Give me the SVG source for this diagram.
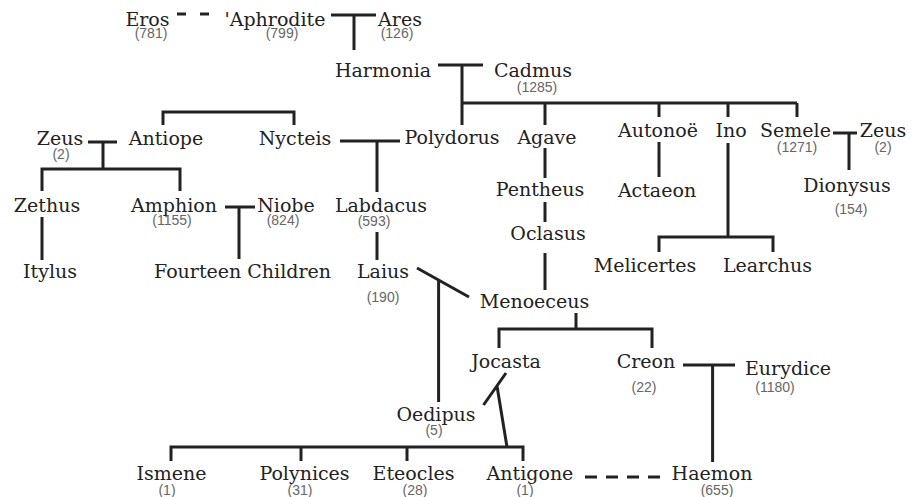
<svg xmlns="http://www.w3.org/2000/svg" width="917" height="497" viewBox="0 0 917 497">
<style>
.n{font-family:"DejaVu Serif","Liberation Serif",serif;font-size:19px;fill:#222;text-anchor:middle}
.c{font-family:"Liberation Sans",Arial,sans-serif;font-size:14px;fill:#666;text-anchor:middle}
.l{stroke:#222;stroke-width:3;fill:none}
.d{stroke:#222;stroke-width:3;fill:none;stroke-dasharray:12 9}
</style>
<rect width="917" height="497" fill="#fff"/>
<g id="connectors">
<line class="l" x1="177" y1="14" x2="186" y2="14"/>
<line class="l" x1="200" y1="14" x2="209" y2="14"/>
<path class="l" d="M331 15H376M354 15V50"/>
<path class="l" d="M438 65H483M462 65V125M462 103H797M545 103V125M659 103V117M728 103V117M797 103V117"/>
<path class="l" d="M88 142H117M103 142V169M42 191V169H180V191"/>
<path class="l" d="M163 125V112H294V125"/>
<path class="l" d="M340 141H400M377 141V192"/>
<path class="l" d="M833 133H857M849 133V170"/>
<path class="l" d="M659 142V177"/>
<path class="l" d="M728 143V237M659 252V237H773V252"/>
<path class="l" d="M545 148V178M545 202V222M545 253V290"/>
<path class="l" d="M225 207H255M239 207V259"/>
<path class="l" d="M377 232V260M42 217V260"/>
<path class="l" d="M417 268L469 297M438.6 280V402"/>
<path class="l" d="M576 313V329M499 348V329H652V348"/>
<path class="l" d="M683 365H735M712.6 365V462"/>
<path class="l" d="M506 373L483.5 405M497 386L507 447"/>
<path class="l" d="M171 461V447H523V461M301 447V461M407 447V461"/>
<line class="d" x1="585" y1="477" x2="660" y2="477"/>
</g>
<g id="eros"><text class="n" x="147.5" y="26">Eros</text><text class="c" x="151" y="38">(781)</text></g>
<g id="aphrodite"><text class="n" x="275" y="26">'Aphrodite</text><text class="c" x="282" y="38">(799)</text></g>
<g id="ares"><text class="n" x="400" y="26">Ares</text><text class="c" x="397" y="38">(126)</text></g>
<g id="harmonia"><text class="n" x="383" y="77">Harmonia</text></g>
<g id="cadmus"><text class="n" x="533" y="77">Cadmus</text><text class="c" x="537" y="92">(1285)</text></g>
<g id="zeus1"><text class="n" x="60" y="145">Zeus</text><text class="c" x="61" y="159">(2)</text></g>
<g id="antiope"><text class="n" x="166" y="145">Antiope</text></g>
<g id="nycteis"><text class="n" x="295" y="145">Nycteis</text></g>
<g id="polydorus"><text class="n" x="452" y="144">Polydorus</text></g>
<g id="agave"><text class="n" x="547" y="144">Agave</text></g>
<g id="autonoe"><text class="n" x="658" y="137">Autonoë</text></g>
<g id="ino"><text class="n" x="731" y="137">Ino</text></g>
<g id="semele"><text class="n" x="795.5" y="137">Semele</text><text class="c" x="797" y="152">(1271)</text></g>
<g id="zeus2"><text class="n" x="883" y="137">Zeus</text><text class="c" x="883" y="152">(2)</text></g>
<g id="pentheus"><text class="n" x="540" y="196">Pentheus</text></g>
<g id="actaeon"><text class="n" x="657" y="197">Actaeon</text></g>
<g id="dionysus"><text class="n" x="847" y="192">Dionysus</text><text class="c" x="851" y="214">(154)</text></g>
<g id="oclasus"><text class="n" x="548" y="240">Oclasus</text></g>
<g id="melicertes"><text class="n" x="645" y="272">Melicertes</text></g>
<g id="learchus"><text class="n" x="767.5" y="272">Learchus</text></g>
<g id="zethus"><text class="n" x="47" y="212">Zethus</text></g>
<g id="amphion"><text class="n" x="174" y="212">Amphion</text><text class="c" x="172" y="225">(1155)</text></g>
<g id="niobe"><text class="n" x="286" y="212">Niobe</text><text class="c" x="283" y="225">(824)</text></g>
<g id="labdacus"><text class="n" x="381" y="212">Labdacus</text><text class="c" x="374" y="226">(593)</text></g>
<g id="itylus"><text class="n" x="50" y="278">Itylus</text></g>
<g id="fourteen"><text class="n" x="242.5" y="278">Fourteen Children</text></g>
<g id="laius"><text class="n" x="383" y="278">Laius</text><text class="c" x="383" y="302">(190)</text></g>
<g id="menoeceus"><text class="n" x="534.5" y="308">Menoeceus</text></g>
<g id="jocasta"><text class="n" x="506" y="368">Jocasta</text></g>
<g id="creon"><text class="n" x="646" y="368">Creon</text><text class="c" x="644" y="392">(22)</text></g>
<g id="eurydice"><text class="n" x="788" y="375">Eurydice</text><text class="c" x="775" y="392">(1180)</text></g>
<g id="oedipus"><text class="n" x="436" y="421">Oedipus</text><text class="c" x="434" y="435">(5)</text></g>
<g id="ismene"><text class="n" x="171.5" y="480">Ismene</text><text class="c" x="167" y="495">(1)</text></g>
<g id="polynices"><text class="n" x="304.5" y="480">Polynices</text><text class="c" x="300" y="495">(31)</text></g>
<g id="eteocles"><text class="n" x="413.5" y="480">Eteocles</text><text class="c" x="415" y="495">(28)</text></g>
<g id="antigone"><text class="n" x="530" y="480">Antigone</text><text class="c" x="525" y="495">(1)</text></g>
<g id="haemon"><text class="n" x="712" y="480">Haemon</text><text class="c" x="717" y="495">(655)</text></g>
</svg>
